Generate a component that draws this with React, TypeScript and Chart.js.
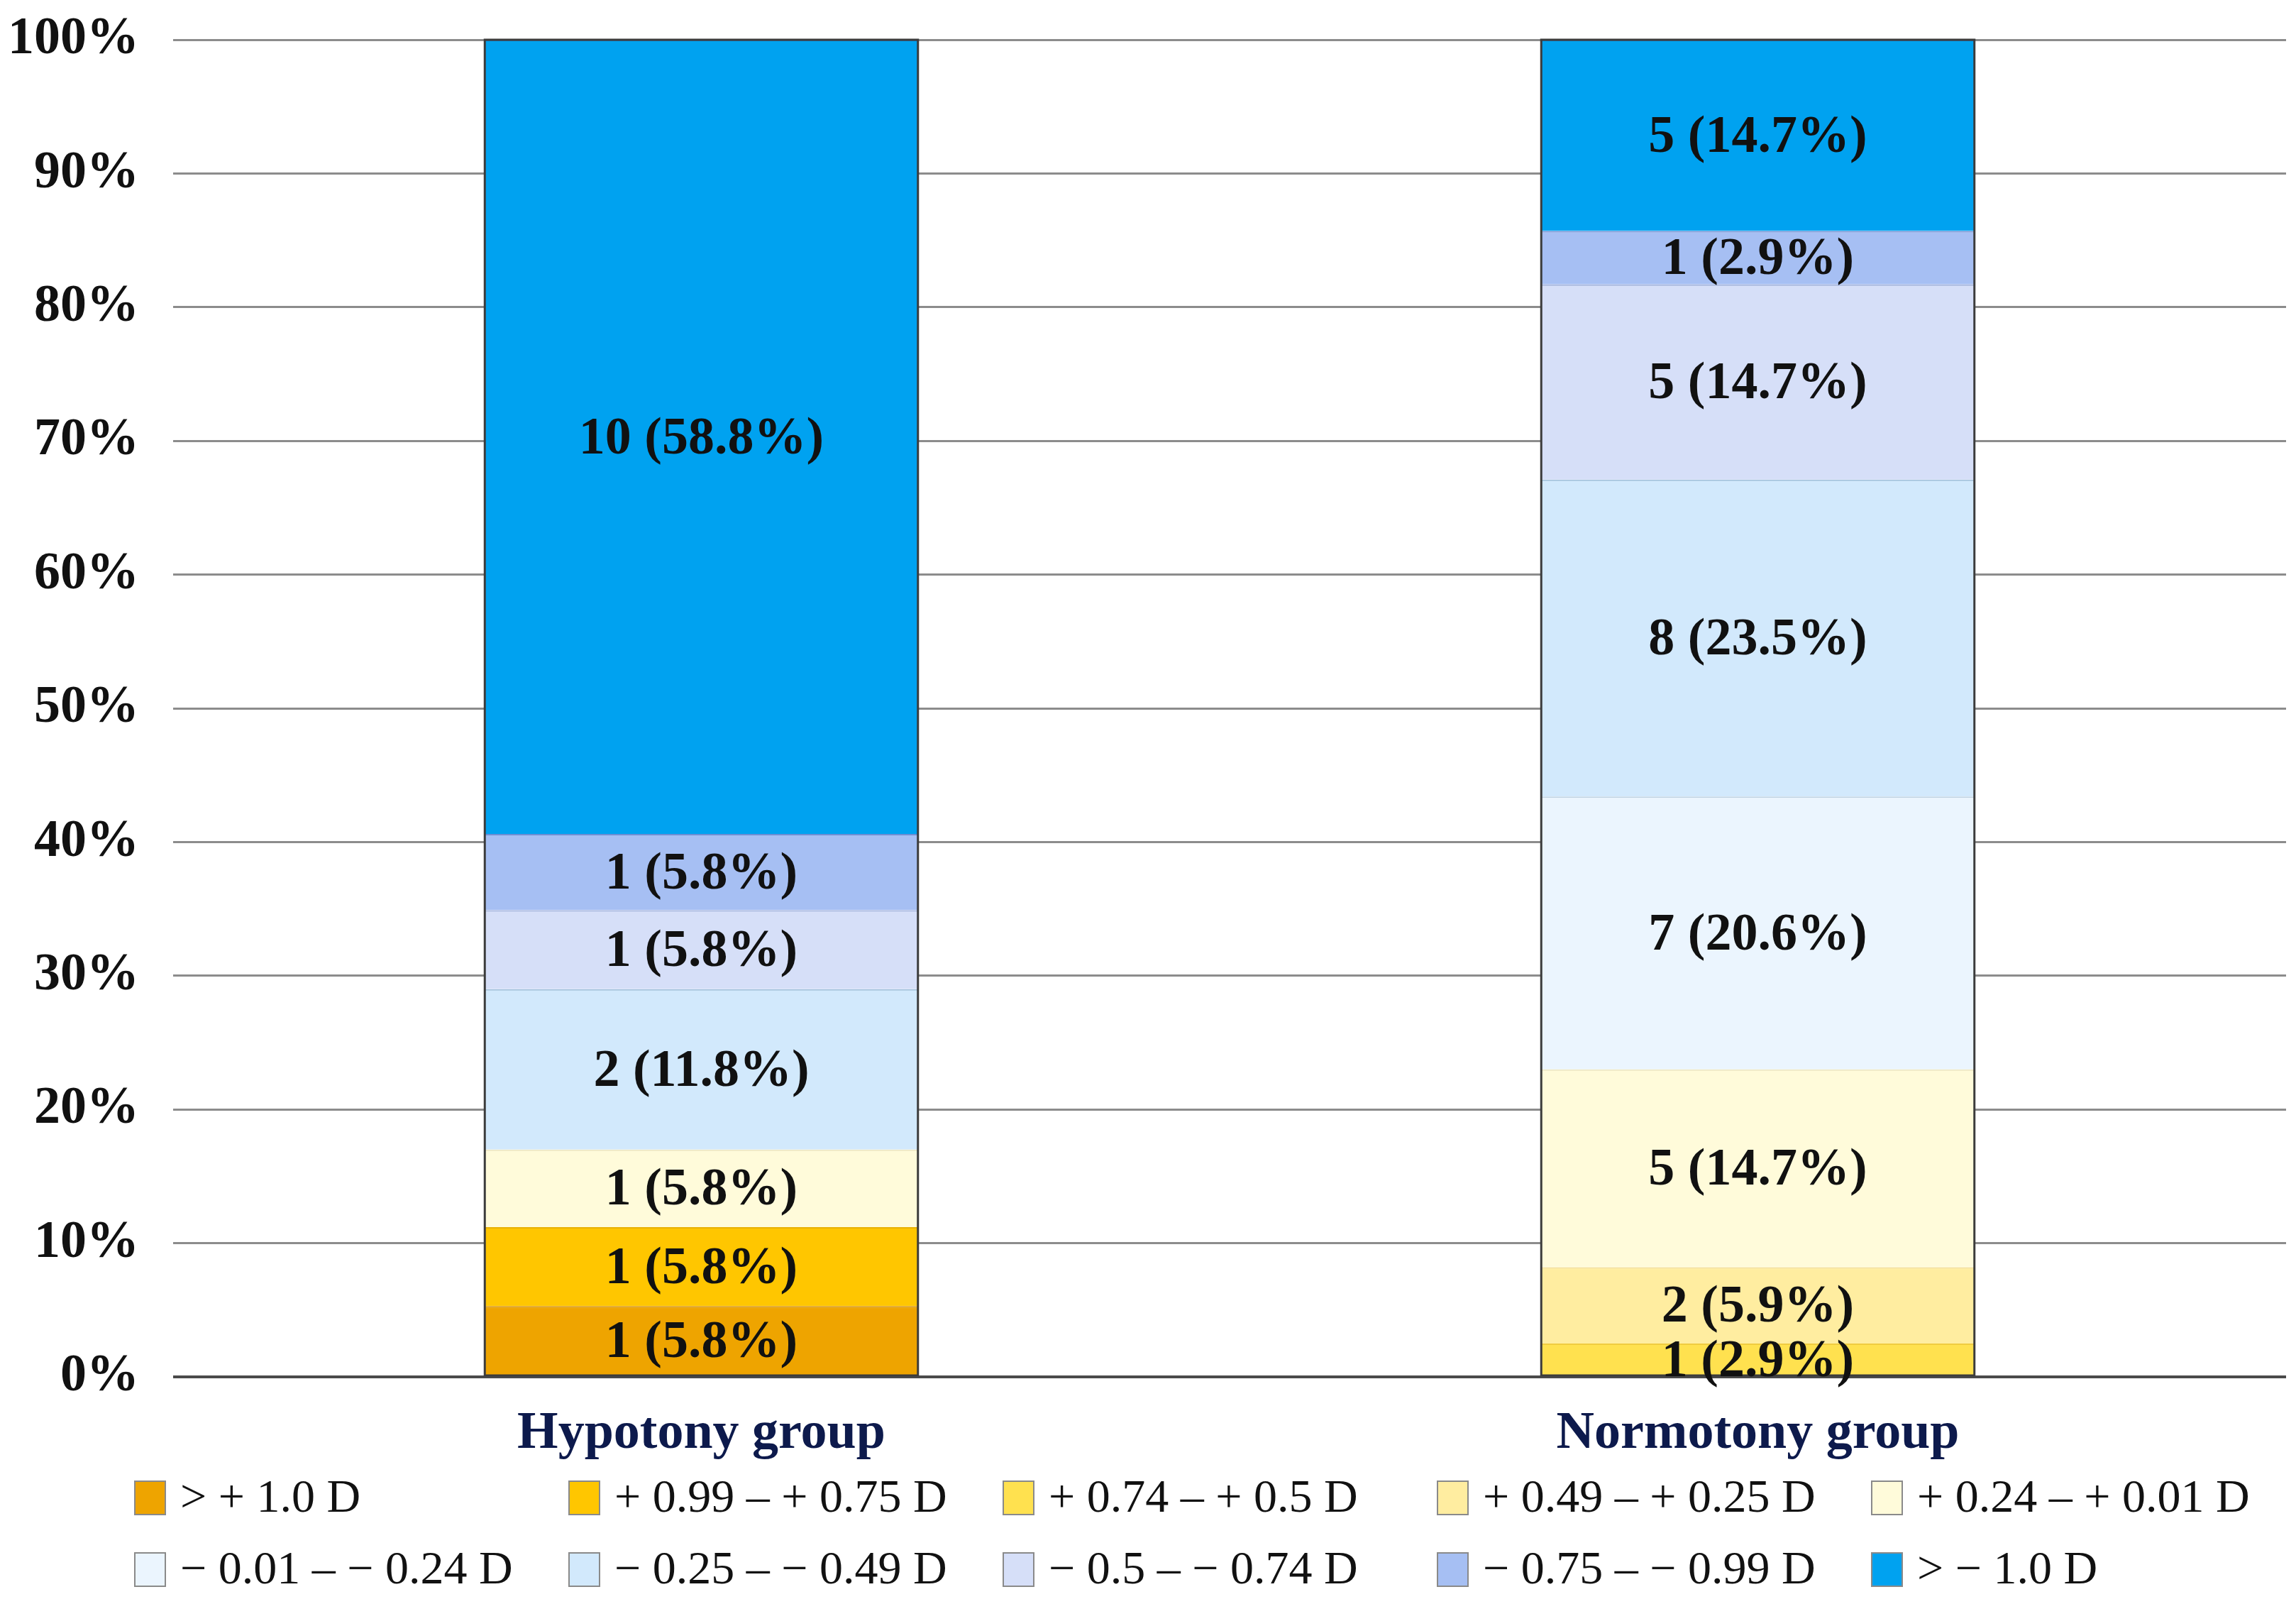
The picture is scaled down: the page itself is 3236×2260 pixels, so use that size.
import { useEffect, useRef } from 'react';
import { Chart, registerables, type ChartConfiguration, type Plugin } from 'chart.js';

Chart.register(...registerables);

const groups = ['Hypotony group', 'Normotony group'];

const ranges = [
  '> + 1.0 D',
  '+ 0.99 – + 0.75 D',
  '+ 0.74 – + 0.5 D',
  '+ 0.49 – + 0.25 D',
  '+ 0.24 – + 0.01 D',
  '− 0.01 – − 0.24 D',
  '− 0.25 – − 0.49 D',
  '− 0.5 – − 0.74 D',
  '− 0.75 – − 0.99 D',
  '> − 1.0 D',
];

// share of each group (segment heights as drawn)
const hypotonyShare = [5.3, 5.9, 0, 0, 5.8, 0, 12.0, 5.9, 5.7, 59.4];
const normotonyShare = [0, 0, 2.5, 5.7, 14.8, 20.4, 23.7, 14.6, 4.0, 14.3];

// printed counts and percentages
const hypotonyCount = [1, 1, 0, 0, 1, 0, 2, 1, 1, 10];
const normotonyCount = [0, 0, 1, 2, 5, 7, 8, 5, 1, 5];
const hypotonyPct = ['5.8%', '5.8%', '', '', '5.8%', '', '11.8%', '5.8%', '5.8%', '58.8%'];
const normotonyPct = ['', '', '2.9%', '5.9%', '14.7%', '20.6%', '23.5%', '14.7%', '2.9%', '14.7%'];

const fills = ['#EEA400', '#FFC600', '#FFE14F', '#FFEDA0', '#FFFBDA', '#EBF5FE', '#D2E9FC', '#D6DFF8', '#A6BFF3', '#00A2F0'];
const edges = ['#D99400', '#E8B000', '#F0CC40', '#F3DE8C', '#EDE6BE', '#BFD3E3', '#9DBEDB', '#9FB0DC', '#6E8ED3', '#2B6FB0'];

const SERIF = "'Liberation Serif', 'Times New Roman', serif";

const counts = [hypotonyCount, normotonyCount];
const pcts = [hypotonyPct, normotonyPct];

const segmentLabels: Plugin<'bar'> = {
  id: 'segmentLabels',
  afterDatasetsDraw(chart) {
    const { ctx } = chart;
    ctx.save();
    // outline around each stacked bar
    groups.forEach((_, j) => {
      let top = Infinity;
      let bottom = -Infinity;
      let left = 0;
      let width = 0;
      chart.data.datasets.forEach((_d, i) => {
        const bar: any = chart.getDatasetMeta(i).data[j];
        if (!bar || !counts[j][i]) return;
        const p = bar.getProps(['x', 'y', 'base', 'width'], true);
        top = Math.min(top, p.y);
        bottom = Math.max(bottom, p.base);
        left = p.x - p.width / 2;
        width = p.width;
      });
      ctx.strokeStyle = '#3c3c3c';
      ctx.lineWidth = 3;
      ctx.strokeRect(left, top, width, bottom - top);
    });

    ctx.font = `bold 74px ${SERIF}`;
    ctx.fillStyle = '#111';
    ctx.textAlign = 'center';
    ctx.textBaseline = 'middle';
    chart.data.datasets.forEach((_d, i) => {
      chart.getDatasetMeta(i).data.forEach((bar: any, j) => {
        const n = counts[j][i];
        if (!n) return;
        const p = bar.getProps(['x', 'y', 'base'], true);
        ctx.fillText(`${n} (${pcts[j][i]})`, p.x, (p.y + p.base) / 2 + 4);
      });
    });
    ctx.restore();
  },
};

const gridLegend: Plugin<'bar'> = {
  id: 'gridLegend',
  afterDraw(chart) {
    const { ctx } = chart;
    ctx.save();
    ctx.font = `66px ${SERIF}`;
    ctx.textAlign = 'left';
    ctx.textBaseline = 'middle';
    ranges.forEach((label, i) => {
      const col = i % 5;
      const row = Math.floor(i / 5);
      const x = 190 + col * 612;
      const y = row === 0 ? 2110 : 2211;
      ctx.fillStyle = fills[i];
      ctx.fillRect(x, y - 23, 43, 47);
      ctx.strokeStyle = '#8a8a8a';
      ctx.lineWidth = 2;
      ctx.strokeRect(x, y - 23, 43, 47);
      ctx.fillStyle = '#111';
      ctx.fillText(label, x + 64, y + 3);
    });
    ctx.restore();
  },
};

export default function App() {
  const canvasRef = useRef<HTMLCanvasElement | null>(null);
  const chartRef = useRef<Chart | null>(null);

  useEffect(() => {
    document.body.style.margin = '0';
    if (!canvasRef.current) return;

    const config: ChartConfiguration<'bar'> = {
      type: 'bar',
      data: {
        labels: groups,
        datasets: ranges.map((label, i) => ({
          label,
          data: [hypotonyShare[i] || null, normotonyShare[i] || null] as any,
          backgroundColor: fills[i],
          borderColor: edges[i],
          borderWidth: { top: 2, left: 0, right: 0, bottom: 0 },
          borderSkipped: false,
          categoryPercentage: 1,
          barPercentage: 0.41,
        })),
      },
      options: {
        responsive: true,
        maintainAspectRatio: false,
        animation: false,
        layout: { padding: { top: 56, right: 14, bottom: 200, left: 0 } },
        plugins: {
          legend: { display: false },
          tooltip: { enabled: false },
        },
        scales: {
          x: {
            stacked: true,
            grid: { display: false },
            border: { display: false },
            ticks: {
              padding: 28,
              color: '#0D1A4C',
              font: { family: SERIF, size: 74, weight: 'bold' },
            },
            afterFit(scale: any) {
              scale.height = 120;
              scale.paddingLeft = 0;
              scale.paddingRight = 0;
            },
          },
          y: {
            stacked: true,
            min: 0,
            max: 100,
            border: { display: false },
            grid: {
              drawTicks: false,
              lineWidth: (c) => (c.tick && c.tick.value === 0 ? 4 : 3),
              color: (c) => (c.tick && c.tick.value === 0 ? '#4a4a4a' : '#8c8c8c'),
            },
            ticks: {
              stepSize: 10,
              padding: 48,
              color: '#111',
              font: { family: SERIF, size: 74, weight: 'bold' },
              callback: (v) => `${v}%`,
            },
            afterFit(scale: any) {
              scale.width = 244;
              scale.paddingTop = 0;
              scale.paddingBottom = 0;
            },
          },
        },
      },
      plugins: [segmentLabels, gridLegend],
    };

    chartRef.current = new Chart(canvasRef.current, config);

    return () => {
      chartRef.current?.destroy();
      chartRef.current = null;
    };
  }, []);

  return (
    <div style={{ width: 3236, height: 2260, position: 'relative', background: '#fff' }}>
      <canvas ref={canvasRef} />
    </div>
  );
}
